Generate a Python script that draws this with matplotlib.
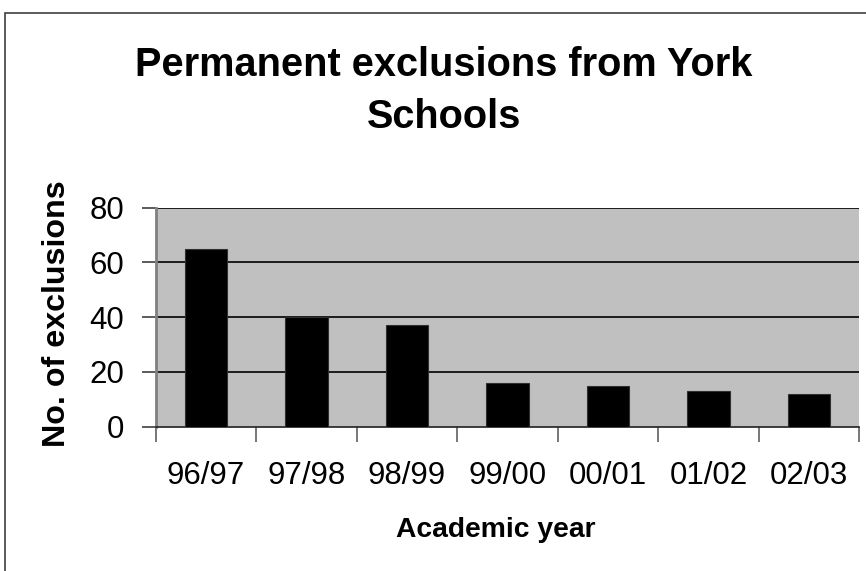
import matplotlib
matplotlib.use("Agg")
import matplotlib.pyplot as plt
from matplotlib.patches import Rectangle

years = ["96/97", "97/98", "98/99", "99/00", "00/01", "01/02", "02/03"]
exclusions = [65, 40, 37, 16, 15, 13, 12]
yticks = [0, 20, 40, 60, 80]

plt.rcParams['font.family'] = ['Liberation Sans', 'DejaVu Sans']

W, H = 866, 571
fig = plt.figure(figsize=(W/100, H/100), dpi=100)
fig.patch.set_facecolor('white')

# outer chart frame (left and top visible, cropped at right/bottom)
fig.add_artist(Rectangle((5/W, -0.1), 1.2, 1.1 - 12.7/H, transform=fig.transFigure,
                         fill=False, edgecolor='#404040', linewidth=1.2))

ax = fig.add_axes([155.7/W, 144.3/H, (859.3-155.7)/W, (426.7-207.7)/H])
ax.set_facecolor('#C0C0C0')
x = list(range(len(years)))
ax.bar(x, exclusions, width=0.42, color='black', edgecolor='#303030', linewidth=0.8, zorder=3)
ax.set_xlim(-0.5, len(years) - 0.5)
ax.set_ylim(0, 80)
ax.set_yticks(yticks)
ax.set_yticklabels([str(v) for v in yticks])
ax.set_xticks([i - 0.5 for i in range(len(years) + 1)], minor=False)
ax.set_xticklabels([])
ax.set_xticks(x, minor=True)
ax.set_xticklabels(years, minor=True)
ax.tick_params(axis='x', which='major', length=11, width=1.2, color='#606060', direction='out')
ax.tick_params(axis='x', which='minor', length=0, pad=25, labelsize=22.5)
ax.tick_params(axis='y', length=10, width=1.2, color='#404040', direction='out', pad=12.7, labelsize=22.5)
for v in yticks[1:]:
    ax.axhline(v, color='black', linewidth=1.2, zorder=2)
for s in ['top', 'right']:
    ax.spines[s].set_visible(False)
ax.spines['left'].set_color('#808080')
ax.spines['left'].set_linewidth(2)
ax.spines['bottom'].set_color('#202020')
ax.spines['bottom'].set_linewidth(1.2)

fig.text(444/W, 1 - 76/H, "Permanent exclusions from York", ha='center', va='baseline',
         fontsize=28.6, fontweight='bold')
fig.text(444/W, 1 - 128/H, "Schools", ha='center', va='baseline',
         fontsize=28.6, fontweight='bold')
fig.text(57/W, 1 - 314/H, "No. of exclusions", rotation=90, ha='center', va='center',
         fontsize=23.2, fontweight='bold')
fig.text(496/W, 1 - 530/H, "Academic year", ha='center', va='center',
         fontsize=20.3, fontweight='bold')

fig.savefig("out.png", dpi=100)
